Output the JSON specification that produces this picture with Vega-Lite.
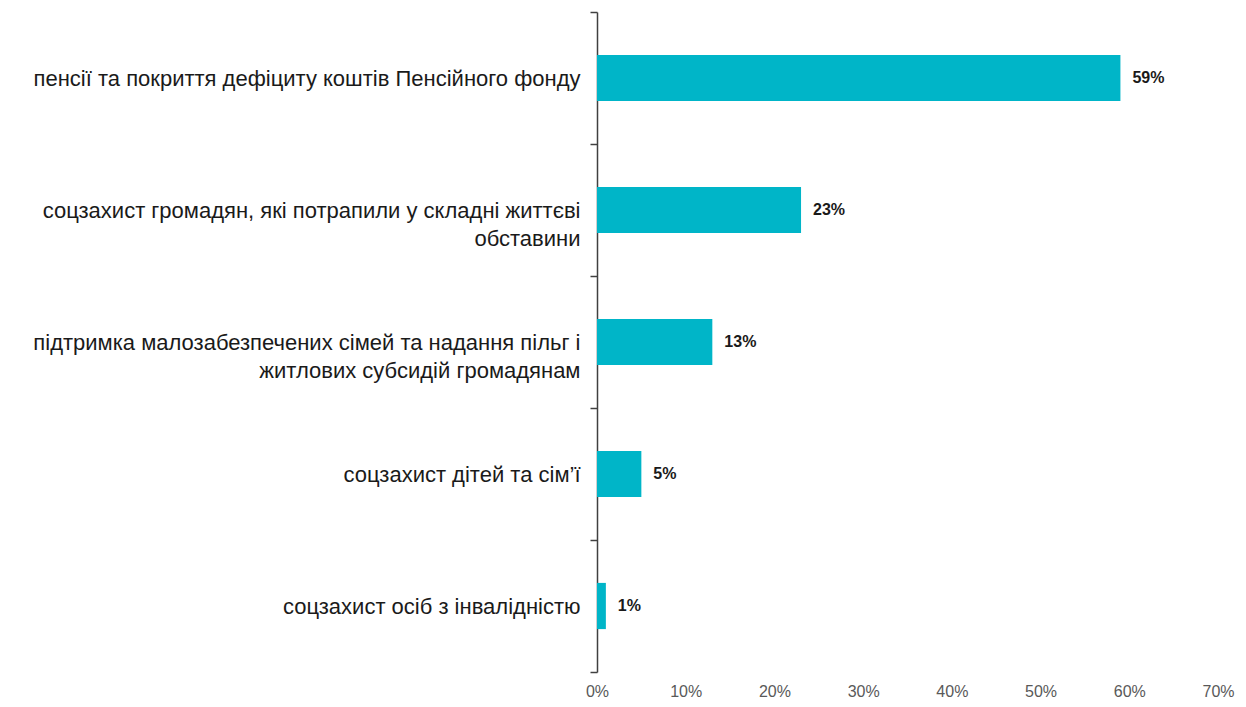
{
  "$schema": "https://vega.github.io/schema/vega-lite/v6.json",
  "width": 621,
  "height": 660,
  "autosize": "none",
  "padding": {"left": 597, "top": 12, "right": 28, "bottom": 35},
  "background": "white",
  "config": {"view": {"stroke": null}, "font": "Liberation Sans"},
  "data": {
    "values": [
      {"category": "пенсії та покриття дефіциту коштів Пенсійного фонду", "share": 0.59},
      {"category": "соцзахист громадян, які потрапили у складні життєві|обставини\u00a0\u00a0\u00a0\u00a0\u00a0\u00a0\u00a0\u00a0\u00a0\u00a0\u00a0\u00a0\u00a0\u00a0\u00a0\u00a0\u00a0\u00a0\u00a0\u00a0\u00a0\u00a0\u00a0\u00a0\u00a0\u00a0\u00a0\u00a0\u00a0\u00a0\u00a0\u00a0\u00a0\u00a0\u00a0", "share": 0.23},
      {"category": "підтримка малозабезпечених сімей та надання пільг і|житлових  субсидій громадянам\u00a0\u00a0\u00a0\u00a0\u00a0\u00a0\u00a0\u00a0\u00a0\u00a0\u00a0\u00a0\u00a0\u00a0\u00a0\u00a0\u00a0\u00a0\u00a0", "share": 0.13},
      {"category": "соцзахист дітей та сім’ї", "share": 0.05},
      {"category": "соцзахист осіб з інвалідністю", "share": 0.01}
    ]
  },
  "encoding": {
    "y": {
      "field": "category",
      "type": "nominal",
      "sort": null,
      "scale": {"paddingInner": 0, "paddingOuter": 0},
      "axis": {
        "title": null,
        "labelExpr": "split(datum.label, '|')",
        "labelFontSize": 22,
        "labelLineHeight": 28,
        "labelColor": "#1a1a1a",
        "labelLimit": 0,
        "labelAlign": "right",
        "labelPadding": 10,
        "tickBand": "extent",
        "tickSize": 7,
        "tickColor": "#404040",
        "tickWidth": 1.5,
        "domainColor": "#404040",
        "domainWidth": 1.5
      }
    },
    "x": {
      "field": "share",
      "type": "quantitative",
      "scale": {"domain": [0, 0.7]},
      "axis": {
        "title": null,
        "format": ".0%",
        "values": [0, 0.1, 0.2, 0.3, 0.4, 0.5, 0.6, 0.7],
        "grid": false,
        "domain": false,
        "ticks": false,
        "tickSize": 0,
        "labelPadding": 11,
        "labelFontSize": 16,
        "labelColor": "#595959",
        "labelFlush": false
      }
    }
  },
  "layer": [
    {"mark": {"type": "bar", "color": "#00B5C8", "height": {"band": 0.35}}},
    {
      "mark": {"type": "text", "align": "left", "dx": 12, "fontSize": 16, "fontWeight": "bold", "color": "#1a1a1a"},
      "encoding": {"text": {"field": "share", "type": "quantitative", "format": ".0%"}}
    }
  ]
}
